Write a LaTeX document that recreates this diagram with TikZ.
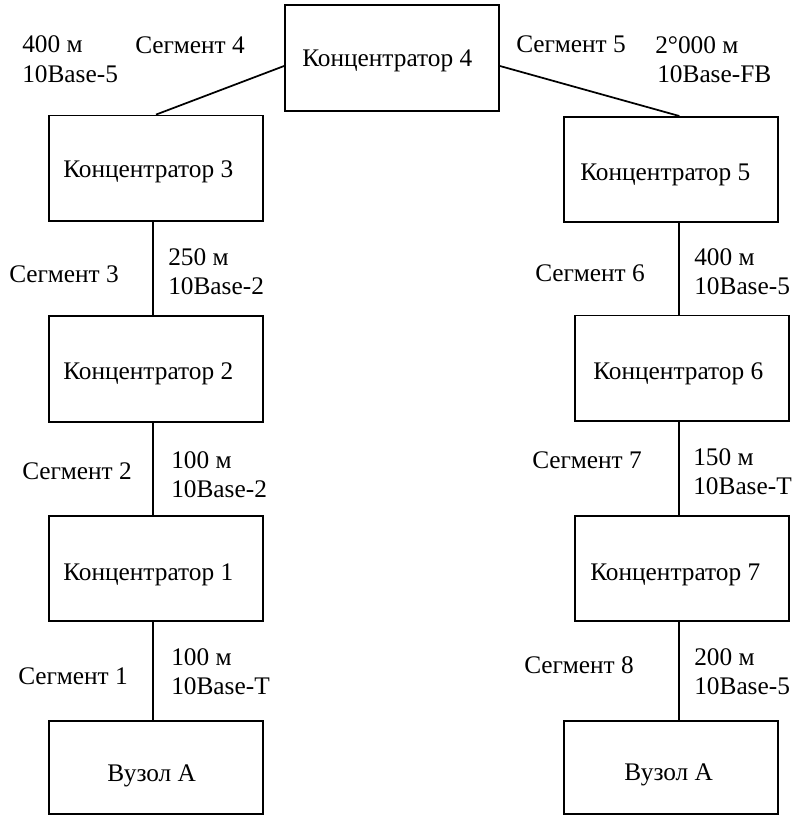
\documentclass[tikz,border=0pt]{standalone}
\usepackage{fontspec}
\setmainfont{Liberation Serif}
\begin{document}
\begin{tikzpicture}[x=0.75pt,y=-0.75pt,
  every node/.style={font=\fontsize{19pt}{22pt}\selectfont},
  hub/.style={draw, line width=1.4pt, inner sep=0pt, minimum width=160.5pt, minimum height=79pt},
  endbox/.style={hub, minimum height=70pt},
  txt/.style={anchor=base west, inner sep=0pt},
  wire/.style={line width=1.3pt}]
\useasboundingbox (0,0) rectangle (793,815);

% boxes
\node[hub] (k4) at (392,57.9) {};
\node[hub] (k3) at (156,168.2) {};
\node[hub] (k5) at (671.2,169.6) {};
\node[hub] (k2) at (156,369) {};
\node[hub] (k6) at (682.2,368.2) {};
\node[hub] (k1) at (156,568.4) {};
\node[hub] (k7) at (682.2,568.4) {};
\node[endbox] (nl) at (156,767.4) {};
\node[endbox] (nr) at (671.2,767.4) {};

% box captions
\node[txt] (k4t) at (302,66) {Концентратор 4};
\node[txt] (k3t) at (63,177) {Концентратор 3};
\node[txt] (k5t) at (580,180) {Концентратор 5};
\node[txt] (k2t) at (63,379) {Концентратор 2};
\node[txt] (k6t) at (593,379) {Концентратор 6};
\node[txt] (k1t) at (63,580) {Концентратор 1};
\node[txt] (k7t) at (590,580) {Концентратор 7};
\node[txt] (nlt) at (107,781) {Вузол А};
\node[txt] (nrt) at (624,780) {Вузол А};

% trunk positions
\coordinate (lx) at (152.7,0);
\coordinate (rx) at (679.3,0);
\coordinate (hy) at (0,66);

% connectors
\draw[wire] (k4.west |- hy) -- (k3.north);
\draw[wire] (k4.east |- hy) -- (k5.north -| rx);
\draw[wire] (k3.south -| lx) -- (k2.north -| lx);
\draw[wire] (k2.south -| lx) -- (k1.north -| lx);
\draw[wire] (k1.south -| lx) -- (nl.north -| lx);
\draw[wire] (k5.south -| rx) -- (k6.north -| rx);
\draw[wire] (k6.south -| rx) -- (k7.north -| rx);
\draw[wire] (k7.south -| rx) -- (nr.north -| rx);

% segment names
\node[txt] (s4) at (135,53) {Сегмент 4};
\node[txt] (s5) at (516,52) {Сегмент 5};
\node[txt] (s3) at (9,282) {Сегмент 3};
\node[txt] (s6) at (535,281) {Сегмент 6};
\node[txt] (s2) at (22,479) {Сегмент 2};
\node[txt] (s7) at (532,468) {Сегмент 7};
\node[txt] (s1) at (18,684) {Сегмент 1};
\node[txt] (s8) at (524,673) {Сегмент 8};

% lengths and media
\node[txt] (l4a) at (22,52) {400 м};
\node[txt] (l4b) at (22,82) {10Base-5};
\node[txt] (l5a) at (655,53) {2°000 м};
\node[txt] (l5b) at (657,82) {10Base-FB};
\node[txt] (l3a) at (168,265) {250 м};
\node[txt] (l3b) at (168,294) {10Base-2};
\node[txt] (l6a) at (694,265) {400 м};
\node[txt] (l6b) at (694,294) {10Base-5};
\node[txt] (l2a) at (171,468) {100 м};
\node[txt] (l2b) at (171,497) {10Base-2};
\node[txt] (l7a) at (693,465) {150 м};
\node[txt] (l7b) at (693,494) {10Base-T};
\node[txt] (l1a) at (171,665) {100 м};
\node[txt] (l1b) at (171,694) {10Base-T};
\node[txt] (l8a) at (694,665) {200 м};
\node[txt] (l8b) at (694,694) {10Base-5};
\end{tikzpicture}
\end{document}
